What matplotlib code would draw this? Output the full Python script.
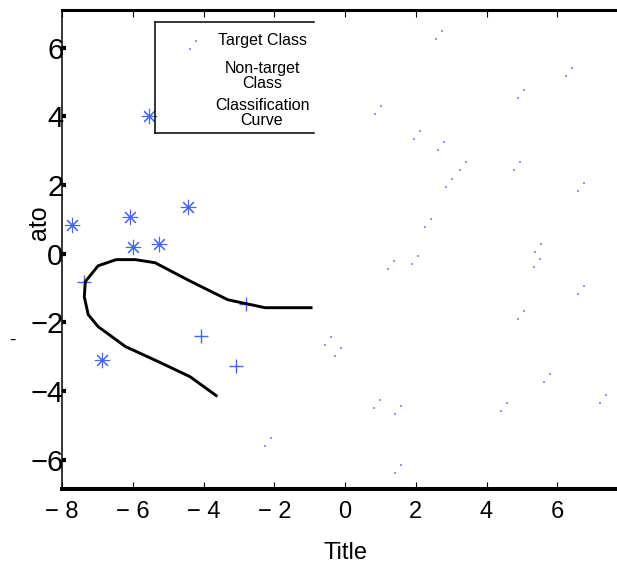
import matplotlib
matplotlib.use("Agg")
import matplotlib.pyplot as plt
from matplotlib.path import Path

plt.rcParams['font.family'] = ['Liberation Sans', 'DejaVu Sans']

# target class (tiny dots)
target_x = [2.66, 6.33, 4.97, 0.93, 2.03, 2.71, 3.33, 4.86, 2.94, 6.67, 2.34, 1.30, 1.98,
            5.45, 5.42, 6.67, 4.97, -0.48, -0.20, 5.71, 0.90, 1.50, 4.49, 7.29, 1.50, -2.18]
target_y = [6.37, 5.29, 4.65, 4.19, 3.46, 3.14, 2.56, 2.56, 2.06, 1.95, 0.90, -0.32, -0.17,
            0.17, -0.26, -1.05, -1.77, -2.53, -2.85, -3.63, -4.36, -4.56, -4.45, -4.24, -6.28, -5.49]
# non-target class (asterisks)
nontarget_x = [-5.55, -7.71, -6.07, -5.99, -5.25, -4.44, -6.86]
nontarget_y = [4.0, 0.84, 1.08, 0.20, 0.29, 1.37, -3.08]
# plus markers
plus_x = [-7.37, -2.80, -4.07, -3.08]
plus_y = [-0.81, -1.45, -2.38, -3.26]
# classification curve
curve_x = [-3.64, -4.38, -5.28, -6.21, -6.98, -7.26, -7.37, -7.34, -6.98, -6.47, -5.93,
           -5.37, -4.35, -3.31, -2.26, -0.96]
curve_y = [-4.13, -3.58, -3.14, -2.70, -2.12, -1.77, -1.25, -0.81, -0.35, -0.17, -0.17,
           -0.26, -0.81, -1.34, -1.57, -1.57]

xticks = [-8, -6, -4, -2, 0, 2, 4, 6]
xticklabels = ['\u2212 8', '\u2212 6', '\u2212 4', '\u2212 2', '0', '2', '4', '6']
yticks = [-6, -4, -2, 0, 2, 4, 6]
yticklabels = ['\u22126', '\u22124', '\u22122', '0', '2', '4', '6']
legend_labels = ['Target Class', 'Non-target\nClass', 'Classification\nCurve']

# two tiny dots per target point
def sq(cx, cy, h):
    return [(cx - h, cy - h), (cx + h, cy - h), (cx + h, cy + h), (cx - h, cy + h), (cx - h, cy - h)]
verts = sq(0.3, 0.42, 0.08) + sq(-0.3, -0.42, 0.08)
codes = ([Path.MOVETO] + [Path.LINETO] * 3 + [Path.CLOSEPOLY]) * 2
dots = Path(verts, codes)

W, H = 617, 565
fig = plt.figure(figsize=(W / 100, H / 100), dpi=100)
ax = fig.add_axes([62 / W, 76 / H, 566 / W, 479 / H])

blue = '#4466ff'
ax.plot(target_x, target_y, ls='none', marker=dots, ms=7, color='#7070ff', alpha=0.75, mew=0)
ax.plot(nontarget_x, nontarget_y, ls='none', marker=(8, 2, 0), ms=11, mew=0.8, color=blue)
ax.plot(plus_x, plus_y, ls='none', marker='+', ms=10, mew=1, color=blue)
ax.plot(curve_x, curve_y, color='black', lw=2.1)

ax.set_xlim(-8, 8)
ax.set_ylim(-6.85, 7.1)

ax.spines['right'].set_visible(False)
ax.spines['bottom'].set_linewidth(2.9)
ax.spines['top'].set_linewidth(2.2)
ax.spines['left'].set_linewidth(1.1)

ax.set_xticks(xticks)
ax.set_xticklabels(xticklabels)
ax.set_yticks(yticks)
ax.set_yticklabels(yticklabels)
ax.tick_params(axis='x', top=True, direction='in', length=5, width=0.8, labelsize=17, pad=9)
ax.tick_params(axis='y', direction='in', length=3, width=3, labelsize=21, pad=-1)

ax.set_xlabel('Title', fontsize=17, labelpad=13)
ax.set_ylabel('ato', fontsize=18)
ax.yaxis.set_label_coords(-0.02, 0.555)

# legend drawn by hand (right side of the box is cut off)
fr = fig.transFigure
for (x0, y0, x1, y1) in [(155, 22, 314, 22), (155, 22, 155, 133), (155, 133, 314, 133)]:
    ax.plot([x0 / W, x1 / W], [1 - y0 / H, 1 - y1 / H], color='black', lw=1.1,
            transform=fr, clip_on=False)
ax.plot([193 / W], [1 - 45 / H], ls='none', marker=dots, ms=7, color='#7070ff',
        alpha=0.75, mew=0, transform=fr, clip_on=False)
for lab, yc in zip(legend_labels, [40, 76, 113]):
    fig.text(262 / W, 1 - yc / H, lab, ha='center', va='center', fontsize=11.5,
             linespacing=1.05)

fig.text(12 / W, 1 - 340 / H, '-', fontsize=14, ha='center', va='center')

fig.savefig('out.png', dpi=100)
